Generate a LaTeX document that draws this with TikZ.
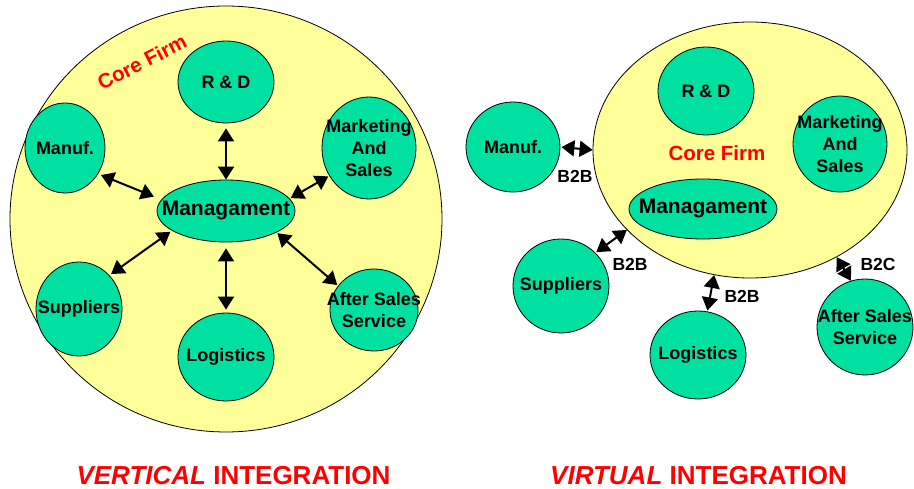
\documentclass[tikz,border=0pt]{standalone}
\usepackage{fontspec}
\setmainfont{Liberation Sans}
\usetikzlibrary{positioning}
\usetikzlibrary{arrows.meta}
\usetikzlibrary{shapes}
\definecolor{unitgreen}{RGB}{0,224,160}
\definecolor{firmyellow}{RGB}{255,255,153}
\definecolor{titlered}{RGB}{255,0,0}

\begin{document}
\begin{tikzpicture}
    [x=1pt, y=-1pt,
    firm/.style={ellipse, fill=firmyellow, draw, line width=0.8pt, inner sep=0pt},
    unit/.style={ellipse, fill=unitgreen, draw, line width=0.8pt, inner sep=0pt,
        label={[align=center, font=\fontsize{18}{22}\selectfont\bfseries]center:#1}},
    bigunit/.style={ellipse, fill=unitgreen, draw, line width=0.8pt, inner sep=0pt,
        label={[font=\fontsize{21}{24}\selectfont\bfseries]center:#1}},
    link/.style={{Triangle[length=13pt,width=16pt]}-{Triangle[length=13pt,width=16pt]}, line width=2pt, shorten <=2pt, shorten >=2pt},
    tag/.style={font=\fontsize{17.5}{20}\selectfont\bfseries},
    firmname/.style={text=titlered, font=\fontsize{20.5}{24}\selectfont\bfseries},
    heading/.style={text=titlered, font=\fontsize{26}{30}\selectfont\bfseries}]
     \useasboundingbox (0,0) rectangle (914,489);
     % vertical integration
     \node[firm, minimum width=432pt, minimum height=426pt] (lcore) at (226,219) {};
     \node[firmname, rotate=27] (lname) at (142,62) {Core Firm};
     \node[unit={R \& D}, minimum width=96pt, minimum height=82pt]  (lrd)  at (226,82)  {};
     \node[unit={Manuf.}, minimum width=80pt, minimum height=90pt]  (lman) at (65,148)  {};
     \node[unit={Marketing\\And\\Sales}, minimum width=94pt, minimum height=102pt] (lmkt) at (369,148) {};
     \node[bigunit={Managament}, minimum width=138pt, minimum height=62pt] (lmgt) at (226,211) {};
     \node[unit={Suppliers}, minimum width=86pt, minimum height=94pt]  (lsup) at (79,309)  {};
     \node[unit={Logistics}, minimum width=96pt, minimum height=88pt]  (llog) at (226,357) {};
     \node[unit={After Sales\\Service}, minimum width=88pt, minimum height=82pt]  (laft) at (374,310) {};
     \draw[link, shorten <=5pt, shorten >=0pt] (lrd) -- (lmgt);
     \draw[link, shorten <=3pt, shorten >=8pt] (lman.-38) -- (lmgt.170);
     \draw[link, shorten <=1pt, shorten >=1pt] (lmkt.215) -- (lmgt.11);
     \draw[link] (lsup.48) -- (lmgt.200);
     \draw[link, shorten <=3pt, shorten >=6pt] (llog) -- (lmgt);
     \draw[link, shorten <=1pt, shorten >=1pt] (laft.146) -- (lmgt.-23);
     % virtual integration
     \node[firm, minimum width=314pt, minimum height=256pt] (rcore) at (750,150) {};
     \node[firmname] (rname) at (717,153) {Core Firm};
     \node[unit={R \& D}, minimum width=96pt, minimum height=88pt]  (rrd)  at (706,91)  {};
     \node[unit={Marketing\\And\\Sales}, minimum width=94pt, minimum height=96pt]  (rmkt) at (840,144) {};
     \node[bigunit={Managament}, minimum width=148pt, minimum height=60pt] (rmgt) at (703,209) {};
     \node[unit={Manuf.}, minimum width=94pt, minimum height=90pt]  (rman) at (513,147) {};
     \node[unit={Suppliers}, minimum width=96pt, minimum height=94pt]  (rsup) at (561,286) {};
     \node[unit={Logistics}, minimum width=96pt, minimum height=88pt]  (rlog) at (698,355) {};
     \node[unit={After Sales\\Service}, minimum width=96pt, minimum height=96pt]  (raft) at (865,327) {};
     \draw[link, shorten <=1pt, shorten >=0pt] (rman.east) -- (rcore.west);
     \draw[link, shorten <=1pt, shorten >=0pt] (rsup.44) -- (rcore.213);
     \draw[link, shorten <=1pt, shorten >=0pt] (rlog.78) -- (rcore.-106);
     \draw[link, shorten <=0pt, shorten >=0pt] (raft.107) -- (rcore.-51);
     \node[tag] (b2bman) at (575,176) {B2B};
     \node[tag] (b2bsup) at (630,264) {B2B};
     \node[tag] (b2blog) at (742,296) {B2B};
     \node[tag] (b2caft) at (878,264) {B2C};
     % headings
     \node[heading] (lhead) at (233.5,475.5) {\textit{VERTICAL} INTEGRATION};
     \node[heading] (rhead) at (698.5,475.5) {\textit{VIRTUAL} INTEGRATION};
\end{tikzpicture}
\end{document}
